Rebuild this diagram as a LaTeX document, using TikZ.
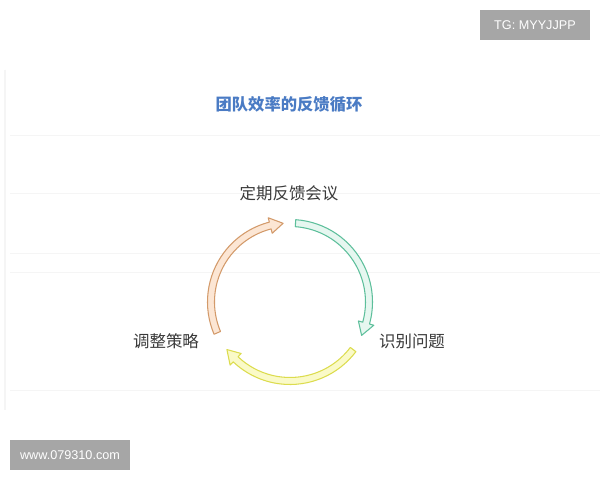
\documentclass[tikz,border=0pt]{standalone}
\usepackage{fontspec}
\setmainfont{Noto Sans CJK SC}
\newfontfamily\wmfont{Liberation Sans}
\definecolor{titleblue}{HTML}{4A7BC4}
\definecolor{labelgray}{HTML}{3A3A3A}
\definecolor{gdraw}{HTML}{5DBF9B}
\definecolor{gfill}{HTML}{E6F7F0}
\definecolor{odraw}{HTML}{D39A6A}
\definecolor{ofill}{HTML}{FCE6D4}
\definecolor{ydraw}{HTML}{DCDC4E}
\definecolor{yfill}{HTML}{FAFAC8}
\definecolor{wmgray}{HTML}{A6A6A6}
\definecolor{faint}{HTML}{F5F5F5}
\newcommand\cycarrow[4]{%
  \pgfmathsetmacro\hb{#2+9.5}%
  \draw[draw=#3, fill=#4, line width=0.75pt, line join=round]
    (#1:82.5) arc[start angle=#1, end angle=\hb, radius=82.5]
    -- (\hb:87) -- (#2:79) -- (\hb:71) -- (\hb:75.5)
    arc[start angle=\hb, end angle=#1, radius=75.5] -- cycle;}
\tikzset{
  lbl/.style={font=\fontsize{11.7}{14}\selectfont, text=labelgray, inner sep=0pt},
  wm/.style={fill=wmgray, text=white, font=\wmfont\fontsize{9}{10}\selectfont, inner sep=0pt, minimum height=0.74cm}
}
\begin{document}
\begin{tikzpicture}[x=0.025cm, y=0.025cm]
\useasboundingbox (0,0) rectangle (600,480);
\fill[white] (0,0) rectangle (600,480);
% faint background lines
\foreach \yy in {345, 287, 227, 208, 90} \draw[faint, line width=0.6pt] (10,\yy) -- (600,\yy);
\draw[faint, line width=0.8pt] (5,410) -- (5,70);
% title
\node[font=\fontsize{11.6}{14}\selectfont\bfseries, text=titleblue, inner sep=0pt] (title) at (289,376) {团队效率的反馈循环};
% labels
\node[lbl] (meet) at (289,287) {定期反馈会议};
\node[lbl] (ident) at (412,139) {识别问题};
\node[lbl] (adjust) at (166,139) {调整策略};
% cycle arrows
\begin{scope}[shift={(290,178)}]
\cycarrow{86}{-25}{gdraw}{gfill}
\cycarrow{-37}{-143}{ydraw}{yfill}
\cycarrow{203}{95}{odraw}{ofill}
\end{scope}
% watermarks
\node[wm, minimum width=2.75cm] (tg) at (535,455) {TG: MYYJJPP};
\node[wm, minimum width=3cm] (www) at (70,25) {www.079310.com};
\end{tikzpicture}
\end{document}
